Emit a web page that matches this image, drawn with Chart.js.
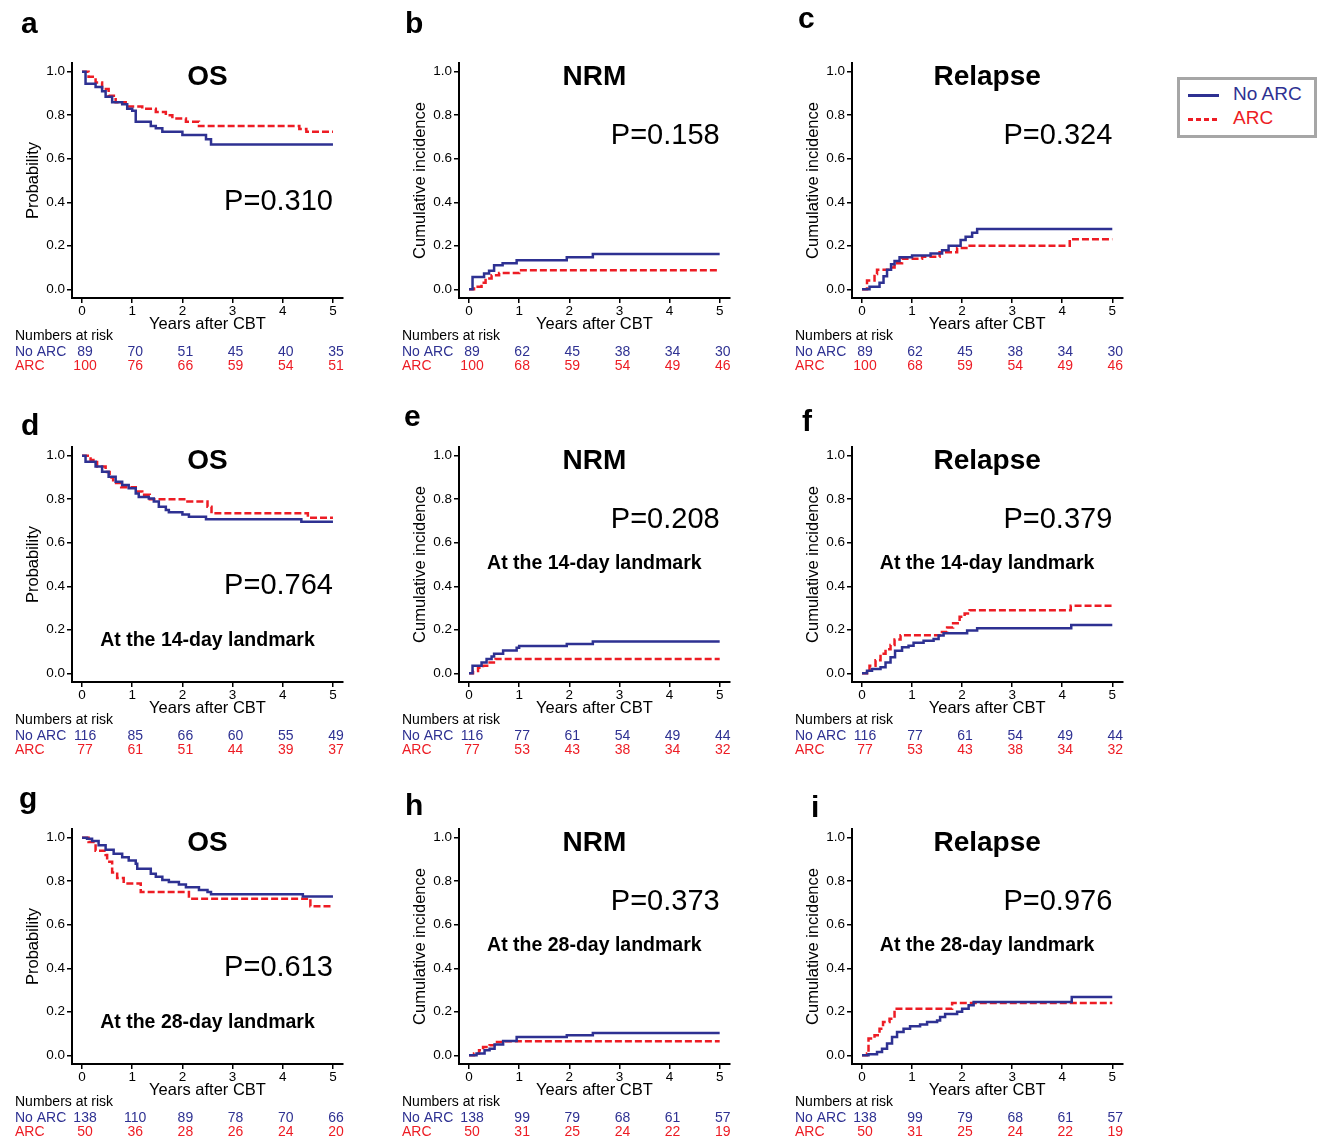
<!DOCTYPE html>
<html>
<head>
<meta charset="utf-8">
<script src="https://cdn.jsdelivr.net/npm/chart.js@4.4.0/dist/chart.umd.min.js"></script>
<style>
    body { margin: 0; background: #fff; }
    #fig { position: relative; width: 1320px; height: 1140px; overflow: hidden; font-family: "Liberation Sans", Arial, Helvetica, sans-serif; }
    #fig canvas { position: absolute; }
    .letter { position: absolute; font-size: 30px; font-weight: bold; line-height: 30px; }
    #legend { position: absolute; left: 1177px; top: 77px; width: 134px; height: 55px; border: 3px solid #a6a6a6; }
    #legend .sample { position: absolute; left: 8px; width: 31px; height: 3px; }
    #legend .name { position: absolute; left: 53px; font-size: 19px; line-height: 20px; }
</style>
</head>
<body>
<div id="fig">
    <div id="legend">
        <div class="sample" style="top:14px;background:#2e3192;"></div>
        <div class="name" style="top:4px;color:#2e3192;">No ARC</div>
        <div class="sample" style="top:38px;background:repeating-linear-gradient(90deg,#ed1c24 0 5px,transparent 5px 8px);"></div>
        <div class="name" style="top:28px;color:#ed1c24;">ARC</div>
    </div>
</div>
<script>
/* global Chart */

const xTicks = [0, 1, 2, 3, 4, 5];
const yTicks = [0, 0.2, 0.4, 0.6, 0.8, 1.0];
const groups = ['No ARC', 'ARC'];

// a: OS, all patients
const aNoArcTime = [0, 0.07, 0.27, 0.4, 0.47, 0.6, 0.8, 0.9, 1.0, 1.07, 1.37, 1.47, 1.6, 2.0, 2.47, 2.57, 5];
const aNoArcValue = [1, 0.945, 0.93, 0.91, 0.885, 0.86, 0.85, 0.83, 0.82, 0.77, 0.75, 0.74, 0.724, 0.709, 0.69, 0.665, 0.665];
const aArcTime = [0, 0.13, 0.27, 0.4, 0.53, 0.67, 0.87, 1.2, 1.47, 1.67, 1.8, 2.07, 2.33, 4.33, 4.47, 5];
const aArcValue = [1, 0.977, 0.95, 0.92, 0.89, 0.86, 0.84, 0.83, 0.815, 0.80, 0.785, 0.77, 0.75, 0.737, 0.724, 0.724];
const aNoArcRisk = [89, 70, 51, 45, 40, 35];
const aArcRisk = [100, 76, 66, 59, 54, 51];

// b: NRM, all patients
const bNoArcTime = [0, 0.07, 0.3, 0.4, 0.5, 0.67, 0.95, 1.95, 2.47, 5];
const bNoArcValue = [0, 0.057, 0.073, 0.085, 0.11, 0.12, 0.133, 0.147, 0.162, 0.162];
const bArcTime = [0, 0.1, 0.25, 0.33, 0.45, 0.6, 1.0, 5];
const bArcValue = [0, 0.012, 0.03, 0.05, 0.065, 0.075, 0.088, 0.088];
const bNoArcRisk = [89, 62, 45, 38, 34, 30];
const bArcRisk = [100, 68, 59, 54, 49, 46];

// c: Relapse, all patients
const cNoArcTime = [0, 0.15, 0.35, 0.43, 0.5, 0.58, 0.65, 0.75, 1.0, 1.37, 1.6, 1.73, 1.97, 2.07, 2.2, 2.3, 5];
const cNoArcValue = [0, 0.012, 0.03, 0.06, 0.09, 0.115, 0.13, 0.147, 0.155, 0.165, 0.18, 0.2, 0.227, 0.242, 0.26, 0.277, 0.277];
const cArcTime = [0, 0.1, 0.25, 0.3, 0.55, 0.65, 0.8, 1.2, 1.55, 1.9, 2.15, 4.15, 5];
const cArcValue = [0, 0.04, 0.07, 0.09, 0.1, 0.12, 0.14, 0.15, 0.17, 0.19, 0.2, 0.23, 0.23];
const cNoArcRisk = [89, 62, 45, 38, 34, 30];
const cArcRisk = [100, 68, 59, 54, 49, 46];

// d: OS, 14-day landmark
const dNoArcTime = [0, 0.07, 0.27, 0.4, 0.53, 0.67, 0.8, 0.93, 1.07, 1.13, 1.33, 1.43, 1.53, 1.67, 1.73, 2.0, 2.13, 2.47, 4.37, 5];
const dNoArcValue = [1, 0.972, 0.95, 0.926, 0.903, 0.88, 0.865, 0.85, 0.826, 0.81, 0.803, 0.79, 0.765, 0.75, 0.74, 0.73, 0.72, 0.708, 0.696, 0.696];
const dArcTime = [0, 0.17, 0.3, 0.47, 0.55, 0.62, 0.78, 1.07, 1.2, 1.35, 2.1, 2.5, 2.58, 4.5, 5];
const dArcValue = [1, 0.98, 0.95, 0.925, 0.9, 0.875, 0.855, 0.835, 0.82, 0.8, 0.79, 0.765, 0.735, 0.715, 0.715];
const dNoArcRisk = [116, 85, 66, 60, 55, 49];
const dArcRisk = [77, 61, 51, 44, 39, 37];

// e: NRM, 14-day landmark
const eNoArcTime = [0, 0.07, 0.25, 0.35, 0.45, 0.5, 0.68, 0.95, 1.0, 1.95, 2.47, 5];
const eNoArcValue = [0, 0.035, 0.05, 0.066, 0.077, 0.09, 0.105, 0.117, 0.125, 0.135, 0.146, 0.146];
const eArcTime = [0, 0.08, 0.18, 0.28, 0.41, 0.53, 5];
const eArcValue = [0, 0.01, 0.025, 0.035, 0.05, 0.066, 0.066];
const eNoArcRisk = [116, 77, 61, 54, 49, 44];
const eArcRisk = [77, 53, 43, 38, 34, 32];

// f: Relapse, 14-day landmark
const fNoArcTime = [0, 0.1, 0.2, 0.37, 0.47, 0.57, 0.66, 0.8, 0.93, 1.03, 1.23, 1.43, 1.53, 1.63, 2.1, 2.3, 4.18, 5];
const fNoArcValue = [0, 0.012, 0.02, 0.028, 0.05, 0.074, 0.104, 0.12, 0.127, 0.14, 0.15, 0.158, 0.174, 0.184, 0.197, 0.207, 0.222, 0.222];
const fArcTime = [0, 0.1, 0.15, 0.27, 0.37, 0.47, 0.57, 0.65, 0.77, 1.55, 1.7, 1.82, 1.95, 2.05, 2.15, 4.17, 5];
const fArcValue = [0, 0.012, 0.035, 0.06, 0.09, 0.11, 0.13, 0.155, 0.175, 0.19, 0.21, 0.23, 0.26, 0.275, 0.29, 0.31, 0.31];
const fNoArcRisk = [116, 77, 61, 54, 49, 44];
const fArcRisk = [77, 53, 43, 38, 34, 32];

// g: OS, 28-day landmark
const gNoArcTime = [0, 0.1, 0.2, 0.33, 0.47, 0.63, 0.8, 0.93, 1.07, 1.1, 1.37, 1.47, 1.6, 1.73, 1.93, 2.07, 2.33, 2.5, 2.57, 4.4, 5];
const gNoArcValue = [1, 0.995, 0.985, 0.965, 0.945, 0.926, 0.91, 0.895, 0.88, 0.857, 0.834, 0.82, 0.806, 0.796, 0.785, 0.772, 0.76, 0.75, 0.74, 0.73, 0.73];
const gArcTime = [0, 0.13, 0.27, 0.47, 0.5, 0.6, 0.7, 0.83, 1.17, 2.13, 4.55, 5];
const gArcValue = [1, 0.98, 0.94, 0.92, 0.89, 0.84, 0.815, 0.79, 0.75, 0.72, 0.685, 0.685];
const gNoArcRisk = [138, 110, 89, 78, 70, 66];
const gArcRisk = [50, 36, 28, 26, 24, 20];

// h: NRM, 28-day landmark
const hNoArcTime = [0, 0.15, 0.31, 0.41, 0.51, 0.68, 0.95, 1.95, 2.47, 5];
const hNoArcValue = [0, 0.008, 0.023, 0.03, 0.05, 0.066, 0.084, 0.092, 0.103, 0.103];
const hArcTime = [0, 0.1, 0.2, 0.28, 0.41, 0.51, 0.68, 5];
const hArcValue = [0, 0.008, 0.023, 0.038, 0.046, 0.061, 0.065, 0.065];
const hNoArcRisk = [138, 99, 79, 68, 61, 57];
const hArcRisk = [50, 31, 25, 24, 22, 19];

// i: Relapse, 28-day landmark
const iNoArcTime = [0, 0.13, 0.3, 0.4, 0.5, 0.6, 0.7, 0.83, 0.96, 1.16, 1.3, 1.5, 1.56, 1.66, 1.9, 2.0, 2.13, 2.23, 4.19, 5];
const iNoArcValue = [0, 0.005, 0.015, 0.03, 0.054, 0.084, 0.107, 0.122, 0.133, 0.142, 0.153, 0.16, 0.176, 0.19, 0.2, 0.214, 0.23, 0.245, 0.268, 0.268];
const iArcTime = [0, 0.1, 0.13, 0.25, 0.35, 0.42, 0.55, 0.65, 1.8, 5];
const iArcValue = [0, 0.008, 0.077, 0.092, 0.122, 0.153, 0.168, 0.214, 0.24, 0.24];
const iNoArcRisk = [138, 99, 79, 68, 61, 57];
const iArcRisk = [50, 31, 25, 24, 22, 19];

const FONT = '"Liberation Sans", Arial, Helvetica, sans-serif';
const BLUE = '#2e3192';
const RED = '#ed1c24';

// page geometry (pixels)
const colAxisLeft = [72, 459.3, 851.7];
const colChartRight = [343, 730, 1122];
const rowChartTop = [63, 447, 828.6];
const PLOT_H = 235;
const CANVAS_W = 385;
const CANVAS_H = 365;
const Y_AXIS_W = 50;
const X_AXIS_H = 36;

const panels = [
    { letter: 'a', row: 0, col: 0, title: 'OS', pValue: 'P=0.310', landmark: '', noArc: [aNoArcTime, aNoArcValue], arc: [aArcTime, aArcValue], risk: [aNoArcRisk, aArcRisk] },
    { letter: 'b', row: 0, col: 1, title: 'NRM', pValue: 'P=0.158', landmark: '', noArc: [bNoArcTime, bNoArcValue], arc: [bArcTime, bArcValue], risk: [bNoArcRisk, bArcRisk] },
    { letter: 'c', row: 0, col: 2, title: 'Relapse', pValue: 'P=0.324', landmark: '', noArc: [cNoArcTime, cNoArcValue], arc: [cArcTime, cArcValue], risk: [cNoArcRisk, cArcRisk] },
    { letter: 'd', row: 1, col: 0, title: 'OS', pValue: 'P=0.764', landmark: 'At the 14-day landmark', noArc: [dNoArcTime, dNoArcValue], arc: [dArcTime, dArcValue], risk: [dNoArcRisk, dArcRisk] },
    { letter: 'e', row: 1, col: 1, title: 'NRM', pValue: 'P=0.208', landmark: 'At the 14-day landmark', noArc: [eNoArcTime, eNoArcValue], arc: [eArcTime, eArcValue], risk: [eNoArcRisk, eArcRisk] },
    { letter: 'f', row: 1, col: 2, title: 'Relapse', pValue: 'P=0.379', landmark: 'At the 14-day landmark', noArc: [fNoArcTime, fNoArcValue], arc: [fArcTime, fArcValue], risk: [fNoArcRisk, fArcRisk] },
    { letter: 'g', row: 2, col: 0, title: 'OS', pValue: 'P=0.613', landmark: 'At the 28-day landmark', noArc: [gNoArcTime, gNoArcValue], arc: [gArcTime, gArcValue], risk: [gNoArcRisk, gArcRisk] },
    { letter: 'h', row: 2, col: 1, title: 'NRM', pValue: 'P=0.373', landmark: 'At the 28-day landmark', noArc: [hNoArcTime, hNoArcValue], arc: [hArcTime, hArcValue], risk: [hNoArcRisk, hArcRisk] },
    { letter: 'i', row: 2, col: 2, title: 'Relapse', pValue: 'P=0.976', landmark: 'At the 28-day landmark', noArc: [iNoArcTime, iNoArcValue], arc: [iArcTime, iArcValue], risk: [iNoArcRisk, iArcRisk] }
];

// panel letters: left x and baseline y
const letterPos = {
    a: [21, 33], b: [405, 33], c: [798, 28],
    d: [21, 435], e: [404, 426], f: [802, 431],
    g: [19, 808], h: [405, 815], i: [811, 817]
};

Chart.defaults.font.family = FONT;
Chart.defaults.color = '#000';

function toPoints(times, values) {
    return times.map((t, i) => ({ x: t, y: values[i] }));
}

function drawAnnotations(chart, p) {
    const { ctx, chartArea: area, scales: { x, y } } = chart;
    const isOS = p.title === 'OS';
    ctx.save();
    ctx.textBaseline = 'middle';
    ctx.fillStyle = '#000';

    ctx.textAlign = 'center';
    ctx.font = 'bold 28px ' + FONT;
    ctx.fillText(p.title, x.getPixelForValue(2.5), y.getPixelForValue(0.976));

    ctx.textAlign = 'right';
    ctx.font = '29px ' + FONT;
    ctx.fillText(p.pValue, x.getPixelForValue(5), y.getPixelForValue(isOS ? 0.401 : 0.705));

    if (p.landmark) {
        ctx.textAlign = 'center';
        ctx.font = 'bold 19.5px ' + FONT;
        ctx.fillText(p.landmark, x.getPixelForValue(2.5), y.getPixelForValue(isOS ? 0.148 : 0.502));
    }

    // Numbers at risk table
    const lx = area.left - 57;
    ctx.font = '14px ' + FONT;
    ctx.textAlign = 'left';
    ctx.fillText('Numbers at risk', lx, area.bottom + 38);
    const rows = [[groups[0], p.risk[0], BLUE, 54.5], [groups[1], p.risk[1], RED, 68.5]];
    rows.forEach(([name, counts, color, dy]) => {
        ctx.fillStyle = color;
        ctx.textAlign = 'left';
        ctx.fillText(name, lx, area.bottom + dy);
        ctx.textAlign = 'center';
        counts.forEach((n, i) => {
            ctx.fillText(String(n), x.getPixelForValue(xTicks[i]) + 3, area.bottom + dy);
        });
    });
    ctx.restore();
}

function renderPanel(p) {
    const fig = document.getElementById('fig');
    const axisLeft = colAxisLeft[p.col];
    const chartRight = colChartRight[p.col];
    const chartTop = rowChartTop[p.row];
    const canvasLeft = axisLeft - 72;
    const canvasTop = chartTop - 50;

    const canvas = document.createElement('canvas');
    canvas.width = CANVAS_W;
    canvas.height = CANVAS_H;
    canvas.style.left = canvasLeft + 'px';
    canvas.style.top = canvasTop + 'px';
    fig.appendChild(canvas);

    const letter = document.createElement('div');
    letter.className = 'letter';
    letter.textContent = p.letter;
    letter.style.left = letterPos[p.letter][0] + 'px';
    letter.style.top = (letterPos[p.letter][1] - 25) + 'px';
    fig.appendChild(letter);

    const padLeft = 72 - Y_AXIS_W;
    const padRight = CANVAS_W - (chartRight - canvasLeft);
    const padBottom = CANVAS_H - 50 - PLOT_H - X_AXIS_H;

    new Chart(canvas, {
        type: 'line',
        data: {
            datasets: [{
                label: groups[0],
                data: toPoints(p.noArc[0], p.noArc[1]),
                stepped: true,
                borderColor: BLUE,
                borderWidth: 2.5,
                borderCapStyle: 'butt',
                pointRadius: 0,
                fill: false
            }, {
                label: groups[1],
                data: toPoints(p.arc[0], p.arc[1]),
                stepped: true,
                borderColor: RED,
                borderWidth: 2.5,
                borderDash: [7, 3],
                borderCapStyle: 'butt',
                pointRadius: 0,
                fill: false
            }]
        },
        options: {
            responsive: false,
            animation: false,
            layout: { padding: { left: padLeft, top: 50, right: padRight, bottom: padBottom } },
            plugins: {
                legend: { display: false },
                tooltip: { enabled: false }
            },
            scales: {
                x: {
                    type: 'linear',
                    min: -0.2,
                    max: 5.2,
                    afterBuildTicks: (scale) => { scale.ticks = xTicks.map(v => ({ value: v })); },
                    afterFit: (scale) => { scale.height = X_AXIS_H; },
                    grid: { display: true, drawOnChartArea: false, drawTicks: true, tickLength: 5, color: '#000', lineWidth: 1.5 },
                    border: { display: true, color: '#000', width: 2 },
                    ticks: { font: { size: 13.5 }, color: '#000', padding: 0, maxRotation: 0, autoSkip: false, callback: v => String(v) },
                    title: { display: true, text: 'Years after CBT', font: { size: 16.5 }, color: '#000', padding: { top: 0, bottom: 0 } }
                },
                y: {
                    type: 'linear',
                    min: -0.04,
                    max: 1.04,
                    afterBuildTicks: (scale) => { scale.ticks = yTicks.map(v => ({ value: v })); },
                    afterFit: (scale) => { scale.width = Y_AXIS_W; },
                    grid: { display: true, drawOnChartArea: false, drawTicks: true, tickLength: 5, color: '#000', lineWidth: 1.5 },
                    border: { display: true, color: '#000', width: 2 },
                    ticks: { font: { size: 13.5 }, color: '#000', padding: 2, callback: v => Number(v).toFixed(1) },
                    title: { display: true, text: p.title === 'OS' ? 'Probability' : 'Cumulative incidence', font: { size: 16.5 }, color: '#000', padding: { top: 2, bottom: 0 } }
                }
            }
        },
        plugins: [{ id: 'annotate', afterDraw: (chart) => drawAnnotations(chart, p) }]
    });
}

panels.forEach(renderPanel);
</script>
</body>
</html>
